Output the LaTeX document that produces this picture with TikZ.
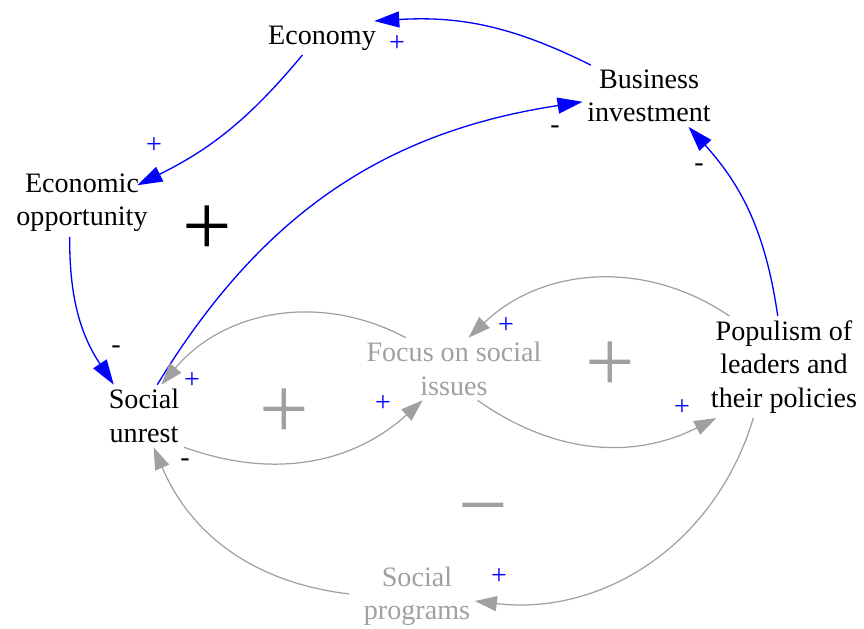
\documentclass[tikz,border=0pt]{standalone}
\usepackage{fontspec}
\setmainfont{Liberation Serif}
\usepackage{tikz}
\usetikzlibrary{arrows.meta}

\definecolor{loopgray}{RGB}{160,160,160}

\tikzset{
  var/.style={align=center, inner sep=2.5pt, font=\fontsize{16}{19}\selectfont},
  shadowvar/.style={var, text=loopgray},
  link/.style={color=blue, line width=0.75pt, -{Triangle[length=0.5cm,width=0.32cm]}},
  greylink/.style={color=loopgray, line width=0.7pt, -{Triangle[length=0.44cm,width=0.3cm]}},
  polplus/.style={text=blue, inner sep=0pt, font=\fontsize{16}{16}\selectfont},
  polminus/.style={inner sep=0pt, font=\fontsize{16}{16}\selectfont},
  loopsign/.style={inner sep=0pt, font=\fontsize{50}{50}\selectfont}
}

\begin{document}
\begin{tikzpicture}
      \useasboundingbox (0,0) rectangle (17.28,-12.58);
      % variables
      \node[var] (econ) at (6.44,-0.76) {Economy};
      \node[var] (bizinv) at (12.98,-1.92) {Business\\investment};
      \node[var] (econopp) at (1.64,-4.06) {Economic\\opportunity};
      \node[var] (unrest) at (2.88,-8.32) {Social\\unrest};
      \node[shadowvar] (focus) at (9.08,-7.38) {Focus on social\\issues};
      \node[var] (populism) at (15.68,-7.34) {Populism of\\leaders and\\their policies};
      \node[shadowvar] (programs) at (8.34,-11.92) {Social\\programs};
      % blue links
      \draw[link] (bizinv.152) to[bend right=15] (econ.18);
      \draw[link] (econ.221) to[bend left=12] ([xshift=-0.3cm, yshift=-0.32cm] econopp.north east);
      \draw[link] (econopp.250) to[bend right=17] (unrest.134);
      \draw[link] (unrest.67) to[bend left=25] (bizinv.185);
      \draw[link] (populism.97) to[bend right=17] (bizinv.322);
      % grey links
      \draw[greylink] (focus.147) to[bend right=39] (unrest.61);
      \draw[greylink] (unrest.322) to[bend right=31] (focus.225);
      \draw[greylink] (populism.137) to[bend right=39] (focus.65);
      \draw[greylink] (focus.307) to[bend right=31] (populism.217);
      \draw[greylink] (populism.239) to[bend left=40] (programs.355);
      \draw[greylink] ([xshift=-0.2cm] programs.178) to[bend left=30] (unrest.287);
      % link polarities
      \node[polplus] (pol1) at (7.94,-0.88) {+};
      \node[polplus] (pol2) at (3.08,-2.92) {+};
      \node[polminus] (pol3) at (2.32,-7.0) {-};
      \node[polminus] (pol4) at (11.1,-2.6) {-};
      \node[polminus] (pol5) at (13.98,-3.36) {-};
      \node[polplus] (pol6) at (3.84,-7.62) {+};
      \node[polplus] (pol7) at (7.66,-8.08) {+};
      \node[polplus] (pol8) at (10.12,-6.52) {+};
      \node[polplus] (pol9) at (13.64,-8.16) {+};
      \node[polplus] (pol10) at (9.98,-11.54) {+};
      \node[polminus] (pol11) at (3.7,-9.26) {-};
      % loop markers
      \node[loopsign] (loopA) at (4.14,-4.62) {+};
      \node[loopsign, text=loopgray] (loopB) at (5.68,-8.28) {+};
      \node[loopsign, text=loopgray] (loopC) at (12.2,-7.34) {+};
      \node[loopsign, text=loopgray] (loopD) at (9.66,-10.38) {−};
    \end{tikzpicture}
\end{document}
